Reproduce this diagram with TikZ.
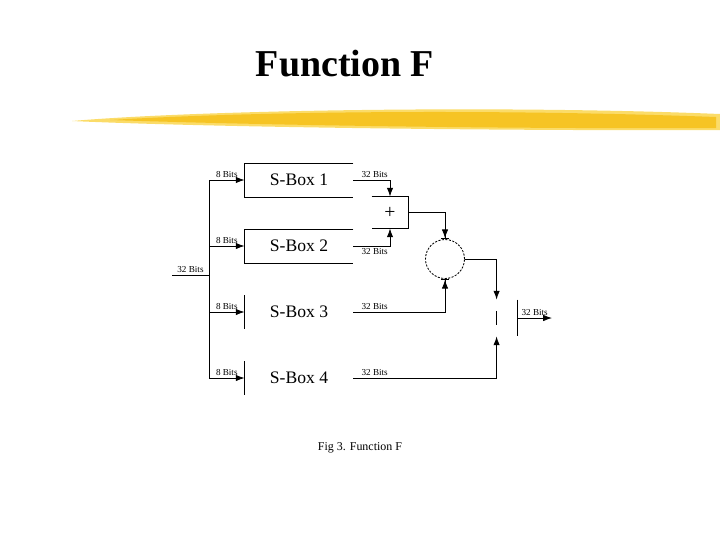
\documentclass[tikz,border=0pt]{standalone}
\usepackage{fontspec}
\setmainfont{Liberation Serif}
\usepackage{tikz}
\usetikzlibrary{arrows.meta,positioning}
\definecolor{brush}{RGB}{246,196,36}
\definecolor{brushlt}{RGB}{251,220,105}

\begin{document}
\begin{tikzpicture}[x=0.025cm, y=-0.025cm, line width=0.6pt, sbox/.style={inner sep=0pt, minimum width=108*0.025cm, minimum height=33*0.025cm, font=\fontsize{12.5}{14}\selectfont}, bits/.style={font=\fontsize{6.5}{7}\selectfont, inner sep=1.5pt}, arr/.style={-{Latex[length=2.2mm, width=1.6mm]}}, arrb/.style={-{Latex[length=2.2mm, width=1.6mm] Bar[width=1.8mm, line width=0.6pt]}}]
\useasboundingbox (0,0) rectangle (720,540);
% title and brush stroke
\node[font=\bfseries\fontsize{27}{30}\selectfont] (title) at (345,64) {Function F};
\fill[brushlt] (72,121) .. controls (200,110) and (500,105) .. (720,114) -- (720,130) .. controls (500,131) and (200,127) .. (72,121);
\fill[brush] (110,120) .. controls (260,111) and (500,109) .. (716,117) -- (716,128) .. controls (500,129) and (260,125) .. (110,120);
% s-boxes
\node[sbox] (sb1) at (299,180) {S-Box 1};
\node[sbox] (sb2) at (299,246) {S-Box 2};
\node[sbox] (sb3) at (299,312) {S-Box 3};
\node[sbox] (sb4) at (299,378) {S-Box 4};
\draw (sb1.north east) -- (sb1.north west) -- (sb1.south west) -- (sb1.south east);
\draw (sb2.north east) -- (sb2.north west) -- (sb2.south west) -- (sb2.south east);
\draw (sb3.north west) -- (sb3.south west);
\draw (sb4.north west) -- (sb4.south west);
% combiners
\node[inner sep=0pt, minimum width=36*0.025cm, minimum height=31*0.025cm, font=\fontsize{14}{14}\selectfont] (add) at (390,212.5) {+};
\draw (add.north west) -- (add.north east) -- (add.south east) -- (add.south west);
\node[circle, draw, dashed, dash pattern=on 1.5pt off 1pt, inner sep=0pt, minimum size=39*0.025cm] (xor1) at (445,259) {};
\node[inner sep=0pt, minimum width=20*0.025cm, minimum height=36*0.025cm] (xor2) at (507,318) {};
\draw (xor2.north east) -- (xor2.south east);
\draw ([yshift=5pt]xor2.west) -- ([yshift=-5pt]xor2.west);
% input bus
\coordinate (in) at (172,275);
\coordinate (bt) at (209,180);
\coordinate (bb) at (209,378);
\draw (in) -- node[bits, above] {32 Bits} (209,275);
\draw (bt) -- (bb);
\draw[arr] (bt) -- node[bits, above] {8 Bits} (sb1.west);
\draw[arr] (209,246) -- node[bits, above] {8 Bits} (sb2.west);
\draw[arr] (209,312) -- node[bits, above] {8 Bits} (sb3.west);
\draw[arr] (bb) -- node[bits, above] {8 Bits} (sb4.west);
% outputs
\draw[arr] (sb1.east) -| node[bits, above right, pos=0, xshift=4pt] {32 Bits} (add.north);
\draw[arr] (sb2.east) -| node[bits, below right, pos=0, xshift=4pt] {32 Bits} (add.south);
\draw[arrb] (add.east) -| (xor1.north);
\draw[arrb] (sb3.east) -| node[bits, above right, pos=0, xshift=4pt] {32 Bits} (xor1.south);
\draw[arr] (xor1.east) -| (xor2.north west);
\draw[arr] (sb4.east) -| node[bits, above right, pos=0, xshift=4pt] {32 Bits} (xor2.south west);
\coordinate (out) at (552,318);
\draw[arr] (xor2.east) -- node[bits, above] {32 Bits} (out);
% caption
\node[font=\fontsize{8.5}{10}\selectfont] (cap) at (360,448) {Fig 3. Function F};
\end{tikzpicture}
\end{document}
